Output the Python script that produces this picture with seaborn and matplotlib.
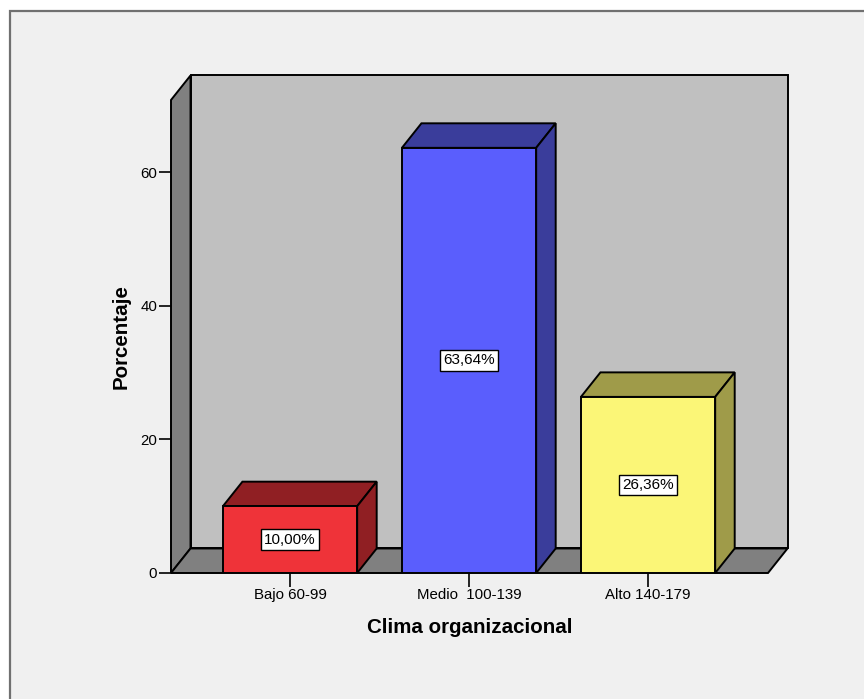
import matplotlib
matplotlib.use("Agg")
import matplotlib.pyplot as plt
from matplotlib.patches import Polygon, Rectangle
import pandas as pd
import seaborn as sns

# Data
categories = ["Bajo 60-99", "Medio  100-139", "Alto 140-179"]
percentages = [10.00, 63.64, 26.36]
front_colors = ["#ef3339", "#5a5efd", "#fbf677"]
shade_colors = ["#901f23", "#3a3d9b", "#9f9b49"]
y_ticks = [0, 20, 40, 60]

sns.set_theme(style="white")
plt.rcParams["font.family"] = ["Liberation Sans", "DejaVu Sans"]

W, H = 864, 699
fig = plt.figure(figsize=(W / 100, H / 100), dpi=100, facecolor="white")

# Panel background with a grey frame
fig.patches.append(Rectangle((10 / W, -0.1), 1.2, 1 - 11 / H + 0.1,
                             transform=fig.transFigure, facecolor="#f0f0f0",
                             edgecolor="#707070", linewidth=1.6, zorder=-10))

# Front box of the chart (pixels): left 171, right 768, bottom 573, top 100
left, right, bottom, top = 171, 768, 573, 100
ax = fig.add_axes([left / W, 1 - bottom / H, (right - left) / W, (bottom - top) / H])
ax.set_facecolor("none")
for s in ax.spines.values():
    s.set_visible(False)

xmin, xmax = -0.665, 2.670
ymin, ymax = 0.0, 70.8
# depth vector of the pseudo-3D box, in data units
dx, dy = 0.109, 3.67

df = pd.DataFrame({"cat": categories, "pct": percentages})
sns.barplot(data=df, x="cat", y="pct", hue="cat", palette=front_colors,
            width=0.75, edgecolor="black", linewidth=1.4, saturation=1,
            legend=False, ax=ax, zorder=5)
ax.set_xlim(xmin, xmax)
ax.set_ylim(ymin, ymax)

wall_kw = dict(edgecolor="black", linewidth=1.4, clip_on=False, joinstyle="miter")
# back wall
ax.add_patch(Polygon([(xmin + dx, ymin + dy), (xmax + dx, ymin + dy),
                      (xmax + dx, ymax + dy), (xmin + dx, ymax + dy)],
                     facecolor="#c0c0c0", zorder=1, **wall_kw))
# left wall
ax.add_patch(Polygon([(xmin, ymin), (xmin, ymax), (xmin + dx, ymax + dy),
                      (xmin + dx, ymin + dy)],
                     facecolor="#808080", zorder=2, **wall_kw))
# floor
ax.add_patch(Polygon([(xmin, ymin), (xmax, ymin), (xmax + dx, ymin + dy),
                      (xmin + dx, ymin + dy)],
                     facecolor="#808080", zorder=2, **wall_kw))

# top and side faces of each bar, plus the value label
bars = [p for p in ax.patches if isinstance(p, Rectangle)]
bars = sorted(bars, key=lambda p: p.get_x())[:len(percentages)]
for bar, shade, val in zip(bars, shade_colors, percentages):
    x0, w, h = bar.get_x(), bar.get_width(), bar.get_height()
    ax.add_patch(Polygon([(x0, h), (x0 + w, h), (x0 + w + dx, h + dy), (x0 + dx, h + dy)],
                         facecolor=shade, zorder=4, **wall_kw))
    ax.add_patch(Polygon([(x0 + w, 0), (x0 + w + dx, dy), (x0 + w + dx, h + dy), (x0 + w, h)],
                         facecolor=shade, zorder=4, **wall_kw))
    label = f"{val:.2f}".replace(".", ",") + "%"
    ax.text(x0 + w / 2, h / 2, label, ha="center", va="center", fontsize=11,
            color="black", zorder=7,
            bbox=dict(boxstyle="square,pad=0.22", facecolor="white",
                      edgecolor="black", linewidth=1.0))

ax.set_yticks(y_ticks)
ax.set_yticklabels([str(t) for t in y_ticks])
ax.tick_params(axis="y", left=True, length=9, width=1.2, color="black",
               pad=1, labelsize=10.8, labelcolor="black")
ax.tick_params(axis="x", bottom=True, length=10, width=1.2, color="black",
               pad=1, labelsize=10.8, labelcolor="black")

ax.set_xlabel("Clima organizacional", fontsize=14.8, fontweight="bold",
              color="black", labelpad=11)
ax.set_ylabel("Porcentaje", fontsize=14.8, fontweight="bold",
              color="black", labelpad=7)

fig.savefig("out.png", dpi=100, facecolor=fig.get_facecolor())
